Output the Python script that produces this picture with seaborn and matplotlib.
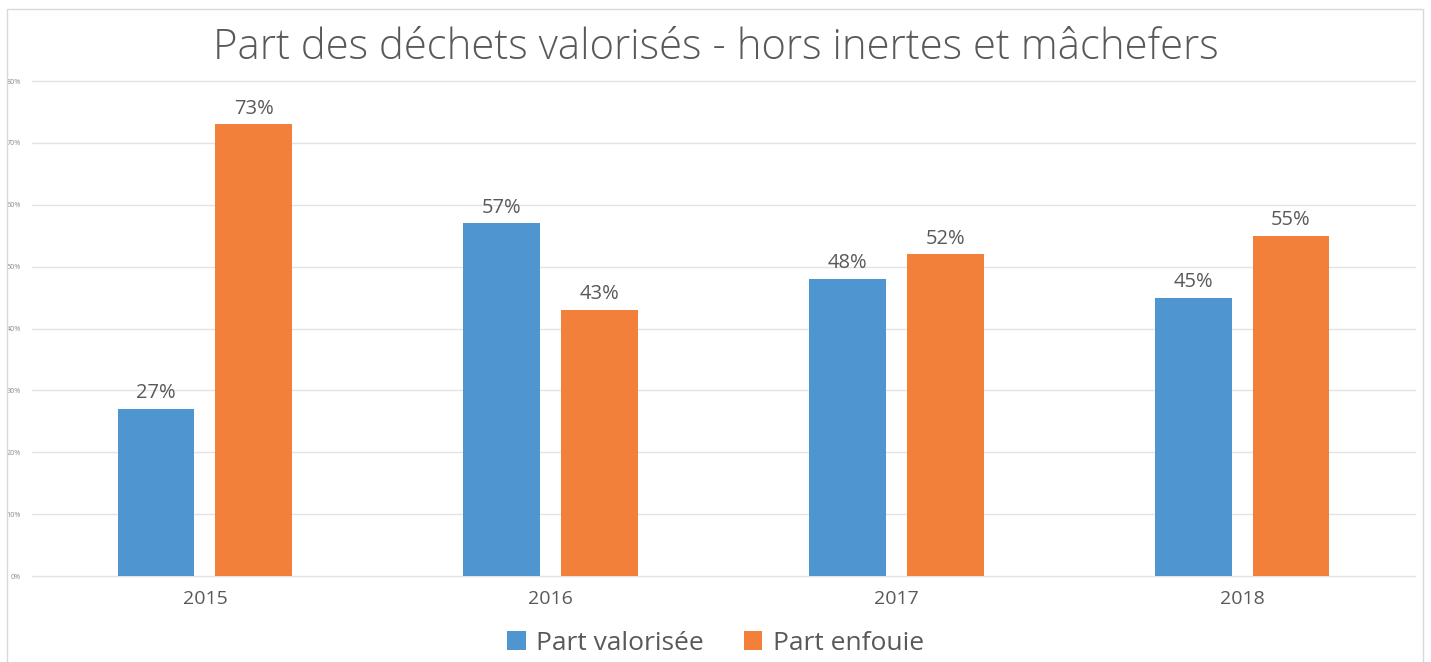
import pandas as pd
import matplotlib.pyplot as plt
import seaborn as sns
from matplotlib.patches import Rectangle

years = ["2015", "2016", "2017", "2018"]
part_valorisee = [27, 57, 48, 45]
part_enfouie = [73, 43, 52, 55]
series_names = ["Part valorisée", "Part enfouie"]
y_ticks = [0, 10, 20, 30, 40, 50, 60, 70, 80]

data = pd.DataFrame({
    "annee": years * 2,
    "valeur": part_valorisee + part_enfouie,
    "serie": [series_names[0]] * 4 + [series_names[1]] * 4,
})

sns.set_style("white")
plt.rcParams["font.family"] = ["Open Sans", "DejaVu Sans"]

fig = plt.figure(figsize=(14.31, 6.62), dpi=100)
ax = fig.add_axes([0.0224, 0.1299, 0.9664, 0.7477])

palette = {series_names[0]: "#4F95D0", series_names[1]: "#F3803A"}
sns.barplot(data=data, x="annee", y="valeur", hue="serie", palette=palette,
            width=0.566, gap=0.214, ax=ax, saturation=1, legend=True,
            linewidth=0)

for cont in ax.containers:
    ax.bar_label(cont, fmt="%d%%", padding=4, fontsize=14.5, color="#595959")

ax.set_ylim(0, 80)
ax.set_xlim(-0.5, 3.5)
ax.set_yticks(y_ticks)
ax.set_yticklabels([f"{t}%" for t in y_ticks], fontsize=5.2, color="#8C8C8C")
ax.tick_params(axis="y", length=0, pad=8)
ax.tick_params(axis="x", length=0, labelsize=14, labelcolor="#595959", pad=10)
ax.yaxis.grid(True, color="#E3E3E3", linewidth=1)
for gl in ax.get_ygridlines():
    gl.set_clip_on(False)
ax.set_axisbelow(True)
for s in ax.spines.values():
    s.set_visible(False)
ax.set_xlabel("")
ax.set_ylabel("")

fig.suptitle("Part des déchets valorisés - hors inertes et mâchefers",
             fontsize=30.2, color="#595959", y=0.96, fontweight="light")

handles, labels = ax.get_legend_handles_labels()
ax.legend(handles, labels, loc="center", bbox_to_anchor=(0.5, 0.028),
          bbox_transform=fig.transFigure, ncol=2, frameon=False,
          fontsize=19, labelcolor="#595959", handlelength=0.7,
          handleheight=0.7, handletextpad=0.4, columnspacing=1.5)

fig.add_artist(Rectangle((7 / 1431, -0.1), (1423 - 7) / 1431, 1.1 - 9 / 662,
                         transform=fig.transFigure, fill=False,
                         edgecolor="#D9D9D9", linewidth=1))

fig.savefig("out.png", dpi=100, facecolor="white")
